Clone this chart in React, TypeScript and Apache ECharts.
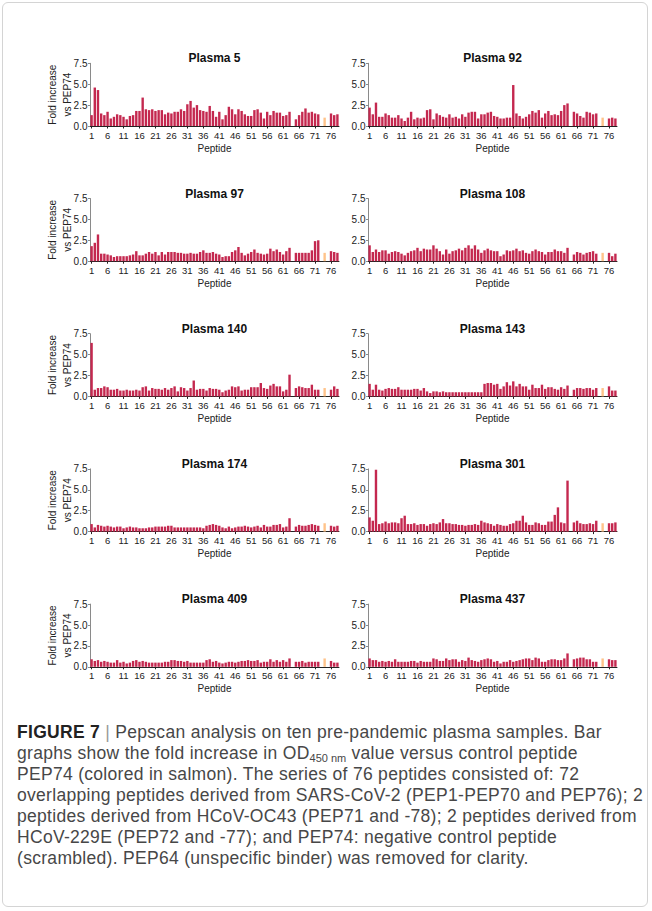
import React, { useEffect, useRef } from "react";
import * as echarts from "echarts";

// Peptide positions 1..78 (PEP64 removed, PEP73 and PEP75 absent)
const peptides: string[] = [
  "1","2","3","4","5","6","7","8","9","10","11","12","13","14","15","16","17","18","19","20",
  "21","22","23","24","25","26","27","28","29","30","31","32","33","34","35","36","37","38","39","40",
  "41","42","43","44","45","46","47","48","49","50","51","52","53","54","55","56","57","58","59","60",
  "61","62","63","64","65","66","67","68","69","70","71","72","73","74","75","76","77","78",
];
const yTicks = [0, 2.5, 5, 7.5];
const controlPeptide = "74";

const plasma5 = [
  1.3, 4.6, 4.3, 1.5, 1.3, 1.7, 0.9, 1.1, 1.4, 1.3,
  1.1, 0.8, 1.2, 1.3, 1.8, 1.8, 3.4, 2.0, 1.9, 2.0,
  1.8, 1.9, 1.9, 1.4, 1.6, 1.5, 1.7, 1.7, 2.0, 1.8,
  2.6, 3.0, 2.2, 2.5, 1.9, 1.8, 1.7, 2.4, 1.8, 1.1,
  1.7, 0.8, 1.3, 2.3, 2.0, 1.4, 2.0, 1.8, 1.4, 1.2,
  1.2, 1.9, 2.0, 1.6, 0.9, 1.7, 1.3, 1.8, 1.6, 1.6,
  1.2, 1.3, 1.7, null, 0.8, 1.3, 1.7, 2.1, 1.6, 1.7,
  1.5, 1.4, null, 1.0, null, 1.5, 1.3, 1.4,
];
const plasma92 = [
  2.2, 1.4, 2.8, 1.1, 1.1, 1.5, 1.3, 1.0, 1.0, 1.3,
  0.9, 0.6, 1.0, 1.7, 0.8, 1.0, 0.9, 1.0, 1.9, 2.0,
  0.8, 1.5, 1.3, 1.1, 1.0, 1.4, 1.0, 1.1, 0.9, 1.4,
  1.1, 1.6, 1.7, 1.7, 0.9, 1.4, 1.4, 1.6, 1.7, 1.2,
  1.1, 0.9, 0.9, 1.0, 1.0, 4.9, 1.5, 1.2, 0.9, 1.1,
  1.4, 1.8, 1.6, 1.9, 1.0, 1.5, 1.8, 1.3, 1.4, 1.3,
  1.8, 2.5, 2.7, null, 1.7, 1.5, 1.2, 1.0, 1.7, 1.6,
  1.4, 1.5, null, 1.0, null, 0.9, 1.0, 0.9,
];
const plasma97 = [
  1.8, 2.2, 3.2, 0.9, 0.9, 0.8, 0.7, 0.5, 0.6, 0.6,
  0.6, 0.6, 0.7, 0.8, 1.2, 0.7, 0.7, 0.9, 1.1, 0.9,
  1.1, 0.7, 1.1, 0.8, 1.1, 1.1, 1.1, 1.0, 1.0, 0.9,
  0.9, 1.0, 0.9, 0.9, 1.1, 1.3, 1.0, 1.0, 1.1, 0.9,
  0.8, 0.5, 0.6, 0.6, 1.1, 1.3, 1.7, 1.0, 0.7, 0.9,
  1.1, 1.4, 1.0, 0.9, 0.8, 0.9, 1.5, 1.2, 1.4, 1.1,
  0.8, 1.2, 1.6, null, 1.0, 1.0, 1.0, 1.0, 1.0, 1.3,
  2.4, 2.5, null, 1.0, null, 1.2, 1.1, 1.0,
];
const plasma108 = [
  1.9, 1.1, 1.4, 1.1, 1.3, 1.3, 0.9, 1.1, 1.2, 1.1,
  0.9, 0.7, 1.0, 1.2, 1.3, 1.6, 1.2, 1.5, 1.4, 1.4,
  1.9, 1.5, 1.2, 0.8, 1.4, 0.9, 1.2, 1.3, 1.5, 1.3,
  1.6, 1.9, 1.5, 1.9, 1.4, 1.0, 1.3, 1.5, 1.3, 1.2,
  1.2, 0.6, 0.8, 1.3, 1.2, 1.3, 1.5, 1.2, 1.3, 1.0,
  0.9, 1.2, 1.4, 1.2, 1.1, 0.8, 1.1, 1.1, 1.4, 1.2,
  1.2, 1.0, 1.6, null, 0.8, 1.1, 1.0, 0.8, 1.0, 1.1,
  1.2, 0.9, null, 1.0, null, 1.0, 0.6, 0.9,
];
const plasma140 = [
  6.4, 0.8, 1.0, 1.0, 1.2, 1.1, 0.8, 0.8, 0.9, 0.7,
  0.7, 0.8, 0.7, 0.7, 0.8, 0.7, 1.1, 1.2, 0.7, 1.0,
  0.9, 0.9, 0.8, 1.0, 0.8, 1.0, 1.2, 0.6, 1.1, 1.0,
  0.7, 1.0, 1.9, 0.8, 0.9, 0.9, 0.7, 1.0, 0.9, 0.9,
  0.8, 0.5, 0.7, 0.8, 1.2, 1.1, 1.2, 0.7, 0.8, 0.8,
  1.1, 1.1, 1.1, 1.6, 1.0, 0.9, 1.3, 1.5, 1.2, 1.2,
  0.6, 0.8, 2.6, null, 1.0, 1.2, 1.1, 1.0, 1.0, 1.4,
  0.8, 0.8, null, 1.0, null, 0.8, 1.2, 0.9,
];
const plasma143 = [
  1.5, 0.8, 1.4, 0.8, 0.7, 0.9, 1.0, 0.9, 0.9, 1.1,
  0.8, 0.8, 0.8, 0.8, 0.9, 0.9, 0.7, 1.0, 0.6, 0.4,
  0.6, 0.6, 0.5, 0.6, 0.5, 0.5, 0.5, 0.5, 0.5, 0.5,
  0.5, 0.5, 0.5, 0.5, 0.5, 0.5, 1.5, 1.6, 1.6, 1.4,
  1.5, 0.9, 1.2, 1.7, 1.3, 1.8, 1.2, 1.5, 1.2, 1.2,
  0.8, 1.4, 1.0, 1.0, 1.4, 0.9, 1.1, 1.1, 0.9, 0.8,
  1.1, 0.9, 1.3, null, 0.8, 1.0, 1.0, 0.9, 1.0, 1.0,
  0.8, 1.0, null, 1.0, null, 1.2, 0.7, 0.7,
];
const plasma174 = [
  0.9, 0.5, 0.8, 0.7, 0.6, 0.7, 0.6, 0.5, 0.6, 0.6,
  0.4, 0.5, 0.6, 0.5, 0.5, 0.4, 0.4, 0.4, 0.5, 0.5,
  0.6, 0.6, 0.6, 0.6, 0.7, 0.7, 0.5, 0.5, 0.5, 0.5,
  0.5, 0.5, 0.5, 0.5, 0.5, 0.4, 0.7, 0.8, 0.9, 0.8,
  0.7, 0.5, 0.4, 0.6, 0.4, 0.5, 0.6, 0.6, 0.7, 0.6,
  0.5, 0.6, 0.7, 0.5, 0.8, 0.6, 0.6, 0.8, 0.8, 0.9,
  0.5, 0.6, 1.6, null, 0.6, 0.8, 0.7, 0.7, 0.8, 0.9,
  0.8, 0.7, null, 1.0, null, 0.7, 0.6, 0.7,
];
const plasma301 = [
  1.7, 1.3, 7.4, 0.9, 1.0, 1.2, 1.0, 1.1, 1.1, 1.0,
  1.6, 1.9, 0.9, 0.9, 1.0, 0.8, 0.9, 0.9, 0.7, 0.9,
  1.0, 0.9, 1.1, 1.5, 1.0, 1.0, 0.9, 0.9, 0.8, 0.8,
  0.7, 0.8, 0.8, 0.9, 0.8, 1.3, 1.1, 1.0, 0.9, 0.7,
  0.9, 0.8, 0.7, 0.7, 0.9, 1.0, 1.3, 1.3, 1.9, 1.1,
  0.8, 0.8, 1.1, 1.0, 0.8, 0.8, 1.2, 1.2, 2.0, 2.9,
  1.1, 1.0, 6.1, null, 1.1, 1.3, 1.0, 0.9, 0.9, 1.0,
  0.9, 1.3, null, 1.0, null, 1.0, 1.0, 1.1,
];
const plasma409 = [
  0.9, 0.7, 0.8, 0.6, 0.7, 0.6, 0.5, 0.5, 0.8, 0.5,
  0.6, 0.4, 0.5, 0.7, 0.8, 0.6, 0.7, 0.6, 0.5, 0.5,
  0.5, 0.5, 0.5, 0.6, 0.6, 0.8, 0.8, 0.7, 0.7, 0.6,
  0.7, 0.5, 0.5, 0.5, 0.5, 0.5, 0.8, 0.9, 0.6, 0.7,
  0.5, 0.4, 0.5, 0.6, 0.6, 0.5, 0.6, 0.7, 0.7, 0.8,
  0.7, 0.7, 0.8, 0.5, 0.6, 0.6, 0.9, 0.6, 0.8, 0.6,
  0.8, 0.6, 1.0, null, 0.6, 0.6, 0.7, 0.5, 0.6, 0.6,
  0.6, 0.6, null, 1.0, null, 0.7, 0.5, 0.5,
];
const plasma437 = [
  1.0, 0.8, 0.8, 0.6, 0.7, 0.6, 0.7, 0.6, 0.9, 0.6,
  0.6, 0.6, 0.6, 0.7, 0.7, 0.5, 0.7, 0.6, 0.6, 0.6,
  1.0, 0.9, 0.7, 0.7, 1.0, 0.8, 0.9, 0.9, 0.6, 0.8,
  0.7, 1.1, 0.8, 0.7, 0.6, 0.8, 0.9, 1.0, 0.9, 0.6,
  0.7, 0.4, 0.6, 0.6, 0.8, 0.6, 0.7, 0.8, 0.9, 1.0,
  1.0, 0.8, 1.1, 1.0, 0.6, 0.6, 0.8, 0.9, 0.9, 0.8,
  0.8, 1.0, 1.6, null, 0.9, 1.0, 1.1, 1.1, 0.9, 0.9,
  0.6, 0.6, null, 1.0, null, 0.9, 0.8, 0.8,
];

const panelNames = [
  "Plasma 5", "Plasma 92", "Plasma 97", "Plasma 108", "Plasma 140",
  "Plasma 143", "Plasma 174", "Plasma 301", "Plasma 409", "Plasma 437",
];
const panelData = [
  plasma5, plasma92, plasma97, plasma108, plasma140,
  plasma143, plasma174, plasma301, plasma409, plasma437,
];

const FONT = "'Liberation Sans', Arial, Helvetica, sans-serif";
const BAR = "#C4284F";
const SALMON = "#FFC38A";

const COL_LEFT = [90, 368];
const GRID_W = 249;
const GRID_H = 62.7;
const ROW_TOP0 = 63.3;
const ROW_STEP = 135.2;

export default function App() {
  const ref = useRef<HTMLDivElement>(null);

  useEffect(() => {
    if (!ref.current) return;
    const chart = echarts.init(ref.current, undefined, { renderer: "svg" });

    const grids: any[] = [];
    const xAxes: any[] = [];
    const yAxes: any[] = [];
    const series: any[] = [];
    const graphics: any[] = [];

    panelNames.forEach((name, i) => {
      const col = i % 2;
      const row = Math.floor(i / 2);
      const left = COL_LEFT[col];
      const top = ROW_TOP0 + row * ROW_STEP;
      grids.push({ left, top, width: GRID_W, height: GRID_H });
      xAxes.push({
        type: "category",
        gridIndex: i,
        data: peptides,
        boundaryGap: true,
        axisLine: { show: true, lineStyle: { color: "#222", width: 1 } },
        axisTick: {
          show: true,
          alignWithLabel: true,
          interval: 4,
          length: 2.5,
          lineStyle: { color: "#222" },
        },
        axisLabel: {
          interval: 4,
          fontSize: 9.5,
          color: "#222",
          margin: 4,
          fontFamily: FONT,
        },
        splitLine: { show: false },
        name: "Peptide",
        nameLocation: "middle",
        nameGap: 16,
        nameMoveOverlap: false,
        nameTextStyle: { fontSize: 10, color: "#222", fontFamily: FONT, lineHeight: 12 },
      });
      yAxes.push({
        type: "value",
        gridIndex: i,
        min: 0,
        max: 7.5,
        interval: 2.5,
        axisLine: { show: true, lineStyle: { color: "#8a8a8a", width: 1 } },
        axisTick: { show: true, length: 2, lineStyle: { color: "#8a8a8a" } },
        splitLine: { show: false },
        axisLabel: {
          fontSize: 10,
          color: "#222",
          margin: 2.5,
          fontFamily: FONT,
          formatter: (v: number) => (yTicks.includes(v) ? v.toFixed(1) : ""),
        },
        name: col === 0 ? "Fold increase\nvs PEP74" : "",
        nameLocation: "middle",
        nameGap: 15.5,
        nameMoveOverlap: false,
        nameTextStyle: { fontSize: 10, color: "#222", fontFamily: FONT, lineHeight: 15 },
      });
      series.push({
        type: "bar",
        xAxisIndex: i,
        yAxisIndex: i,
        barCategoryGap: "25%",
        itemStyle: { color: BAR },
        data: panelData[i].map((v, idx) =>
          peptides[idx] === controlPeptide ? { value: v, itemStyle: { color: SALMON } } : v
        ),
      });
      graphics.push({
        type: "text",
        x: left + GRID_W / 2,
        y: top - 5,
        style: {
          text: name,
          fill: "#111",
          font: `bold 12px ${FONT}`,
          textAlign: "center",
          textVerticalAlign: "middle",
        },
      });
    });

    chart.setOption({
      animation: false,
      backgroundColor: "transparent",
      grid: grids,
      xAxis: xAxes,
      yAxis: yAxes,
      series,
      graphic: graphics,
    });

    return () => chart.dispose();
  }, []);

  const lineStyle = (k: number): React.CSSProperties => ({
    position: "absolute",
    left: 17,
    top: 721.5 + k * 21.1,
    height: 21.1,
    lineHeight: "21.1px",
    whiteSpace: "nowrap",
    fontSize: 17.5,
    letterSpacing: "0.3px",
    color: "#474747",
    fontFamily: FONT,
  });

  return (
    <div
      style={{
        position: "absolute",
        left: 0,
        top: 0,
        width: 652,
        height: 911,
        background: "#fff",
        overflow: "hidden",
      }}
    >
      <div
        style={{
          position: "absolute",
          left: 2,
          top: 2,
          width: 646,
          height: 905,
          border: "1px solid #d4d4d4",
          borderRadius: 6,
          boxSizing: "border-box",
        }}
      />
      <div ref={ref} style={{ position: "absolute", left: 0, top: 0, width: 652, height: 700 }} />
      <div style={lineStyle(0)}>
        <b style={{ color: "#222" }}>FIGURE 7</b>
        <span style={{ color: "#999" }}> | </span>Pepscan analysis on ten pre-pandemic plasma samples. Bar
      </div>
      <div style={lineStyle(1)}>
        graphs show the fold increase in OD
        <sub style={{ fontSize: 11, verticalAlign: "-3px", letterSpacing: 0 }}>450 nm</sub> value versus control peptide
      </div>
      <div style={lineStyle(2)}>PEP74 (colored in salmon). The series of 76 peptides consisted of: 72</div>
      <div style={lineStyle(3)}>overlapping peptides derived from SARS-CoV-2 (PEP1-PEP70 and PEP76); 2</div>
      <div style={lineStyle(4)}>peptides derived from HCoV-OC43 (PEP71 and -78); 2 peptides derived from</div>
      <div style={lineStyle(5)}>HCoV-229E (PEP72 and -77); and PEP74: negative control peptide</div>
      <div style={lineStyle(6)}>(scrambled). PEP64 (unspecific binder) was removed for clarity.</div>
    </div>
  );
}
